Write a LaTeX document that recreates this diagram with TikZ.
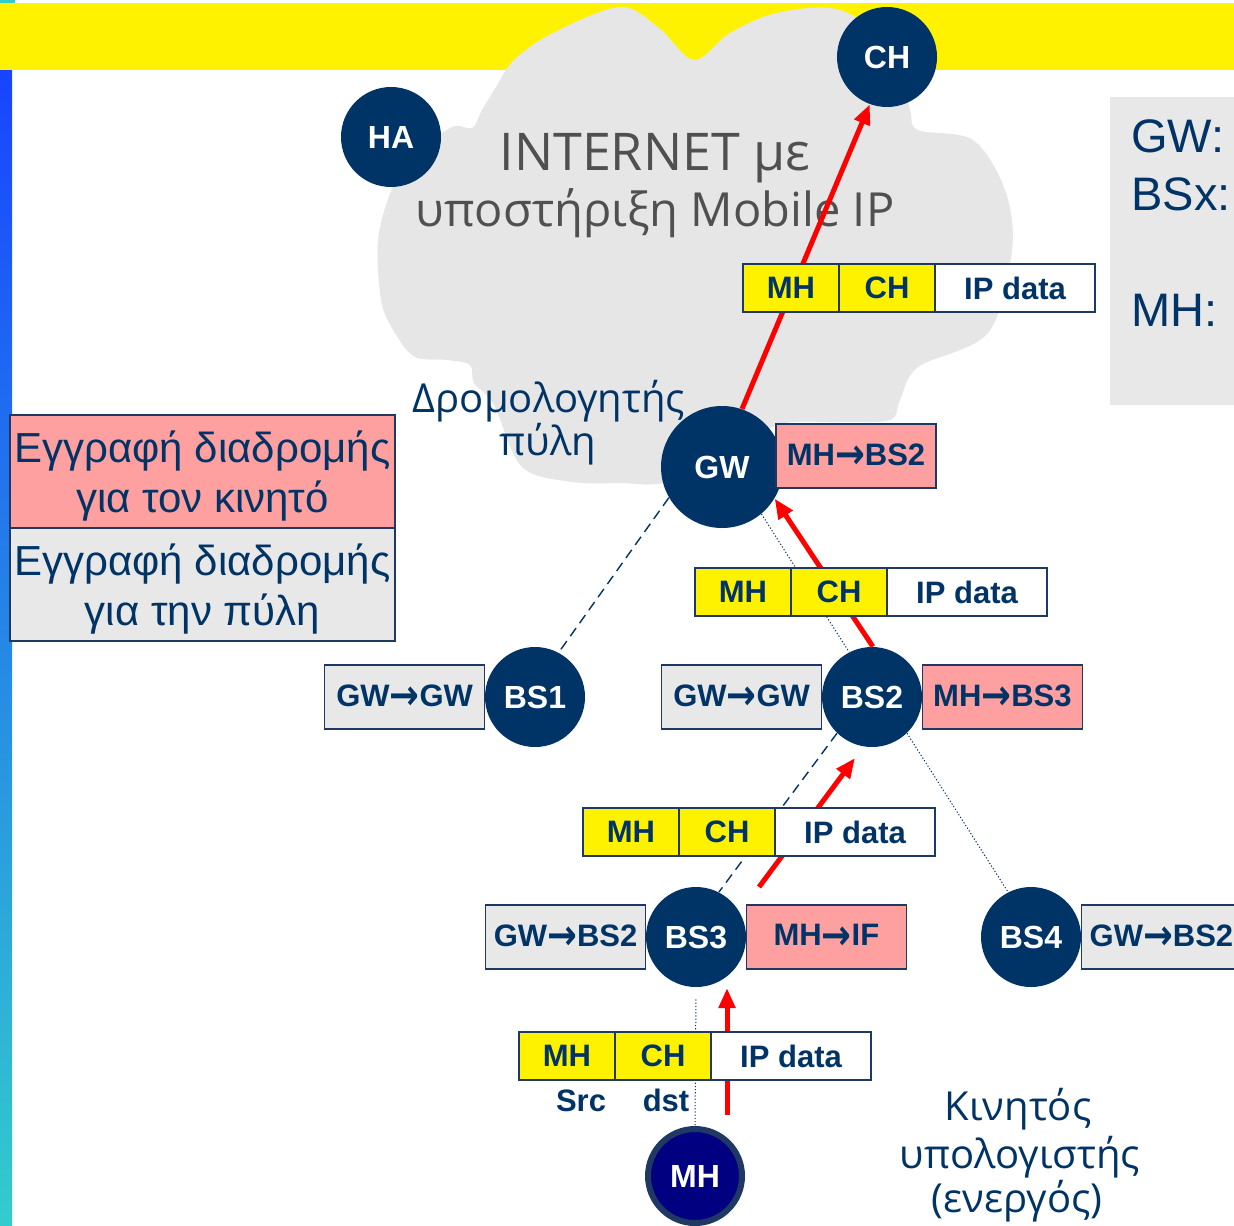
\documentclass[tikz,border=0pt]{standalone}
\usepackage{graphicx}
\usepackage{fontspec}
\setmainfont{Liberation Sans}
\newfontfamily\handfont{Open Sans}
\newfontfamily\arrowfont{DejaVu Sans}
\newcommand{\ra}{\raisebox{-1.7pt}{\scalebox{1.15}[1.35]{\arrowfont →}}}
\usetikzlibrary{positioning,arrows.meta}
\definecolor{navy}{RGB}{0,51,102}
\definecolor{mhblue}{RGB}{0,0,128}
\definecolor{edge}{RGB}{31,56,100}
\definecolor{rtpink}{RGB}{255,160,160}
\definecolor{rtgray}{RGB}{232,232,232}
\definecolor{cloudgray}{RGB}{230,230,230}
\definecolor{cloudtext}{RGB}{80,80,80}
\definecolor{stripblue}{RGB}{24,68,255}
\definecolor{stripmid}{RGB}{40,150,225}
\definecolor{stripteal}{RGB}{51,204,204}
\begin{document}
\begin{tikzpicture}[x=0.5pt, y=-0.5pt,
    station/.style={circle, fill=navy, text=white, inner sep=0pt, minimum size=50pt,
      font=\bfseries\fontsize{16}{16}\selectfont},
    pktcell/.style={draw=edge, line width=0.6pt, inner sep=0pt, outer sep=0pt, text=navy,
      font=\bfseries\fontsize{15.5}{16}\selectfont},
    hdr/.style={pktcell, fill=yellow, minimum width=48pt, minimum height=24pt},
    payload/.style={pktcell, fill=white, minimum width=80pt, minimum height=24pt},
    route/.style={pktcell, minimum width=80pt, minimum height=32pt},
    legendbox/.style={draw=edge, line width=0.8pt, text=navy, align=center, inner sep=0pt,
      outer sep=0pt, text depth=0pt, minimum width=192.5pt, minimum height=56.5pt,
      font=\fontsize{21}{25}\selectfont},
    handtext/.style={anchor=base, font=\handfont\fontsize{20}{20}\selectfont},
    link/.style={navy, line width=0.7pt, dash pattern=on 5pt off 3pt},
    trace/.style={navy, line width=0.5pt, dash pattern=on 0.6pt off 1pt},
    flow/.style={red, line width=2.5pt, -{Triangle[length=10pt,width=8pt]}}]
  \useasboundingbox (0,0) rectangle (1234,1225);
  % backdrop: strip, band, cloud
  \fill[stripteal] (0,0) rectangle (15,3);
  \shade[top color=stripblue, middle color=stripmid, bottom color=stripteal] (0,69) rectangle (12,1225);
  \fill[yellow] (0,3) rectangle (1234,70);
  \fill[cloudgray] plot[smooth cycle, tension=0.55] coordinates {
      (620,7) (659,28) (694,60) (730,33) (777,13) (840,10) (895,50) (910,110) (918,130)
      (973,140) (1005,190) (1012,250) (988,333) (918,367) (900,400) (890,420) (840,422)
      (780,424) (740,450) (667,482) (620,483) (573,482) (522,467) (494,405) (474,383)
      (470,365) (447,360) (415,357) (395,333) (381,300) (379,233) (403,167) (450,128)
      (472,128) (482,110) (496,87) (514,60) (553,33)};
  \node[handtext, text=cloudtext, font=\handfont\fontsize{26}{26}\selectfont] (net1) at (655,170) {INTERNET με};
  \node[handtext, text=cloudtext, font=\handfont\fontsize{23.5}{25}\selectfont] (net2) at (655,227) {υποστήριξη Mobile IP};
  \node[handtext, text=navy] (gwname1) at (549,412) {Δρομολογητής};
  \node[handtext, text=navy] (gwname2) at (548,455) {πύλη};
  \node[handtext, text=navy] (mhname1) at (1018,1120) {Κινητός};
  \node[handtext, text=navy] (mhname2) at (1020,1168) {υπολογιστής};
  \node[handtext, text=navy] (mhname3) at (1017,1212) {(ενεργός)};
  % key on the right
  \fill[rtgray] (1110,97) rectangle (1240,405);
  \foreach \yy/\lab in {153/GW:, 210/BSx:, 326/MH:}
    \node[anchor=base west, inner sep=0pt, text=navy, font=\fontsize{23.5}{24}\selectfont] (key-\yy) at (1131,\yy) {\lab};
  % stations
  \node[station] (ch) at (887,57) {CH};
  \node[station] (ha) at (391,137) {HA};
  \node[station, minimum size=61pt] (gw) at (722,467) {GW};
  \node[station] (bs1) at (535,697) {BS1};
  \node[station] (bs2) at (872,697) {BS2};
  \node[station] (bs3) at (696,937) {BS3};
  \node[station] (bs4) at (1031,937) {BS4};
  \node[station, fill=mhblue, draw=edge, line width=3pt, minimum size=47pt] (mh) at (695,1176) {MH};
  % wired and wireless links
  \draw[link] (gw.210) -- (bs1.62);
  \draw[link] (bs2.226) -- (bs3.63);
  \draw[trace] (gw.-50) -- (bs2.117);
  \draw[trace] (bs2.-46) -- (bs4.117);
  \draw[trace, shorten <=6pt] (bs3.south) -- (mh.north);
  % packet path
  \coordinate (up3a) at (759,887);
  \coordinate (up3b) at (855,758);
  \coordinate (up4a) at (727,1115);
  \coordinate (up4b) at (727,988);
  \draw[flow] (gw.71) -- (ch.250);
  \draw[flow] (bs2.89) -- (gw.-31);
  \draw[flow] (up3a) -- (up3b);
  \draw[flow] (up4a) -- (up4b);
  % routing entries
  \node[route, fill=rtpink, anchor=north west] (gwtab) at (776,424) {MH\ra BS2};
  \node[route, fill=rtgray, left=0pt of bs1] (bs1tab) {GW\ra GW};
  \node[route, fill=rtgray, left=0pt of bs2] (bs2tabl) {GW\ra GW};
  \node[route, fill=rtpink, right=0pt of bs2] (bs2tabr) {MH\ra BS3};
  \node[route, fill=rtgray, left=0pt of bs3] (bs3tabl) {GW\ra BS2};
  \node[route, fill=rtpink, right=0pt of bs3] (bs3tabr) {MH\ra IF};
  \node[route, fill=rtgray, right=0pt of bs4] (bs4tab) {GW\ra BS2};
  % packets
  \foreach \k/\px/\py in {1/743/264, 2/695/568, 3/583/808, 4/519/1032} {
    \node[hdr, anchor=north west] (src\k) at (\px,\py) {MH};
    \node[hdr, right=0pt of src\k] (dst\k) {CH};
    \node[payload, right=0pt of dst\k] (data\k) {IP data};
  }
  \node[anchor=base, text=navy, font=\bfseries\fontsize{15.5}{16}\selectfont] (srclab) at (581,1111) {Src};
  \node[anchor=base, text=navy, font=\bfseries\fontsize{15.5}{16}\selectfont] (dstlab) at (666,1111) {dst};
  % legend
  \node[legendbox, fill=rtpink, anchor=north west] (keypink) at (10,415) {Εγγραφή διαδρομής\\για τον κινητό};
  \node[legendbox, fill=rtgray, below=0pt of keypink] (keygray) {Εγγραφή διαδρομής\\για την πύλη};
\end{tikzpicture}
\end{document}
